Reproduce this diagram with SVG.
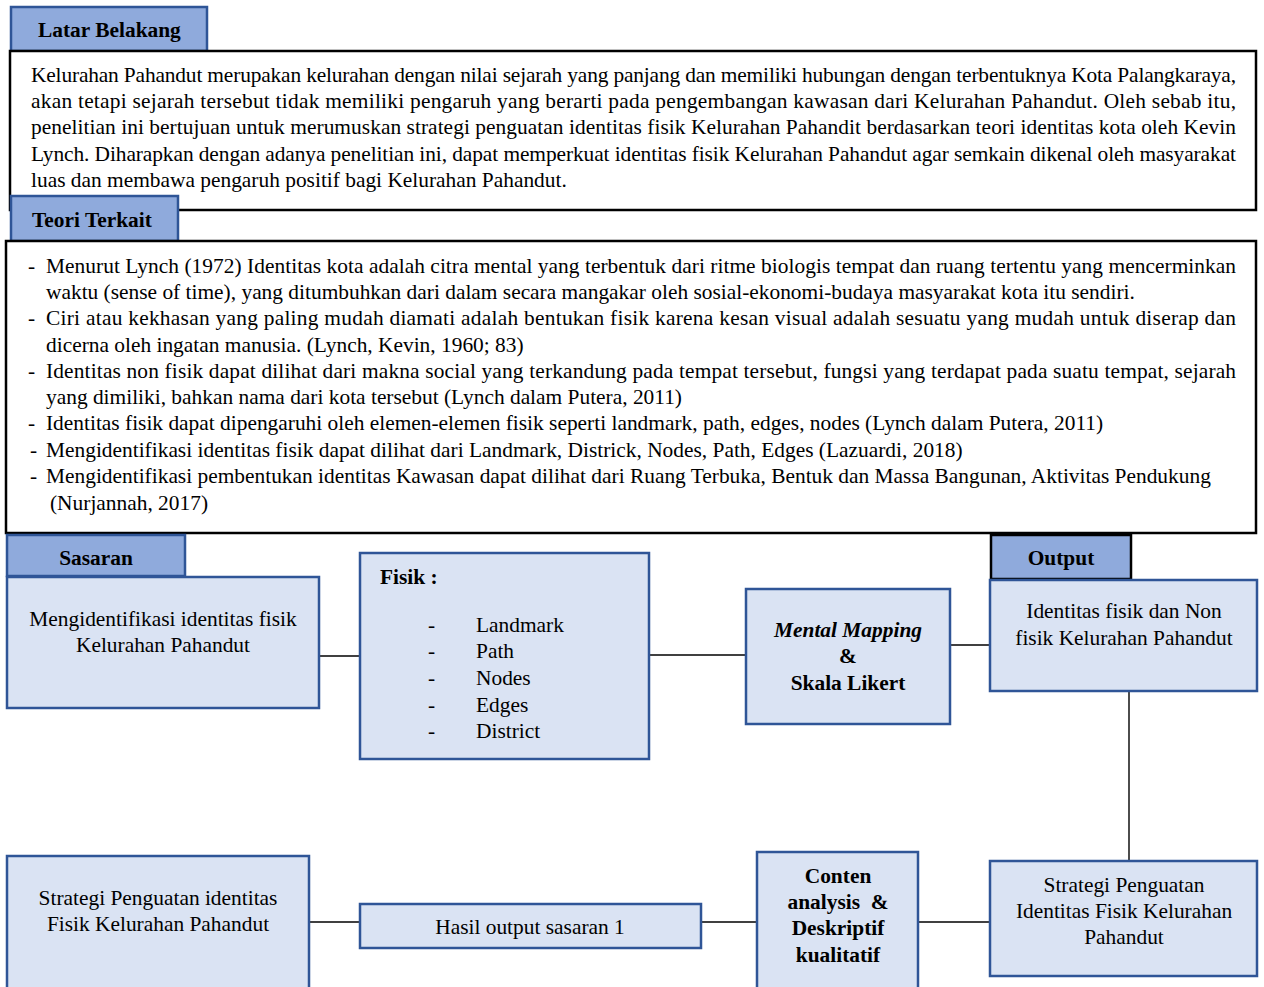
<svg xmlns="http://www.w3.org/2000/svg" width="1264" height="987" viewBox="0 0 1264 987">
<style>
text{font-family:"Liberation Serif","Times New Roman",serif;font-size:21.4px;fill:#000}
.b{font-weight:bold}
.bi{font-weight:bold;font-style:italic}
.m{text-anchor:middle}
.tab{fill:#8FAADC;stroke:#2F5597;stroke-width:2.5}
.tabk{fill:#8FAADC;stroke:#000;stroke-width:2.5}
.frame{fill:#fff;stroke:#000;stroke-width:2.5}
.node{fill:#DAE3F3;stroke:#2F5597;stroke-width:2.5}
.con{stroke:#000;stroke-width:1.4;fill:none}
</style>
<rect width="1264" height="987" fill="#fff"/>

<g id="connectors">
<line class="con" x1="319" y1="656" x2="359" y2="656"/>
<line class="con" x1="649" y1="655" x2="746" y2="655"/>
<line class="con" x1="950" y1="645" x2="990" y2="645"/>
<line class="con" x1="1129" y1="691" x2="1129" y2="861"/>
<line class="con" x1="309" y1="922" x2="359" y2="922"/>
<line class="con" x1="701" y1="922" x2="756" y2="922"/>
<line class="con" x1="918" y1="922" x2="990" y2="922"/>
</g>

<g id="latar-belakang">
<rect class="tab" x="11" y="7" width="196" height="44"/>
<rect class="frame" x="10" y="51" width="1246" height="159"/>
<text class="b" x="38" y="37">Latar Belakang</text>
<text x="31" y="82" textLength="1205" lengthAdjust="spacing">Kelurahan Pahandut merupakan kelurahan dengan nilai sejarah yang panjang dan memiliki hubungan dengan terbentuknya Kota Palangkaraya,</text>
<text x="31" y="108" textLength="1205" lengthAdjust="spacing">akan tetapi sejarah tersebut tidak memiliki pengaruh yang berarti pada pengembangan kawasan dari Kelurahan Pahandut. Oleh sebab itu,</text>
<text x="31" y="134" textLength="1205" lengthAdjust="spacing">penelitian ini bertujuan untuk merumuskan strategi penguatan identitas fisik Kelurahan Pahandit berdasarkan teori identitas kota oleh Kevin</text>
<text x="31" y="161" textLength="1205" lengthAdjust="spacing">Lynch. Diharapkan dengan adanya penelitian ini, dapat memperkuat identitas fisik Kelurahan Pahandut agar semkain dikenal oleh masyarakat</text>
<text x="31" y="187">luas dan membawa pengaruh positif bagi Kelurahan Pahandut.</text>
</g>

<g id="teori-terkait">
<rect class="tab" x="11" y="196" width="167" height="45"/>
<rect class="frame" x="6" y="241" width="1250" height="292"/>
<text class="b" x="32" y="227">Teori Terkait</text>
<text x="28" y="273">-</text>
<text x="46" y="273" textLength="1190" lengthAdjust="spacing">Menurut Lynch (1972) Identitas kota adalah citra mental yang terbentuk dari ritme biologis tempat dan ruang tertentu yang mencerminkan</text>
<text x="46" y="299">waktu (sense of time), yang ditumbuhkan dari dalam secara mangakar oleh sosial-ekonomi-budaya masyarakat kota itu sendiri.</text>
<text x="28" y="325">-</text>
<text x="46" y="325" textLength="1190" lengthAdjust="spacing">Ciri atau kekhasan yang paling mudah diamati adalah bentukan fisik karena kesan visual adalah sesuatu yang mudah untuk diserap dan</text>
<text x="46" y="352">dicerna oleh ingatan manusia. (Lynch, Kevin, 1960; 83)</text>
<text x="28" y="378">-</text>
<text x="46" y="378" textLength="1190" lengthAdjust="spacing">Identitas non fisik dapat dilihat dari makna social yang terkandung pada tempat tersebut, fungsi yang terdapat pada suatu tempat, sejarah</text>
<text x="46" y="404">yang dimiliki, bahkan nama dari kota tersebut (Lynch dalam Putera, 2011)</text>
<text x="28" y="430">-</text>
<text x="46" y="430">Identitas fisik dapat dipengaruhi oleh elemen-elemen fisik seperti landmark, path, edges, nodes (Lynch dalam Putera, 2011)</text>
<text x="30" y="457">-</text>
<text x="46" y="457">Mengidentifikasi identitas fisik dapat dilihat dari Landmark, Districk, Nodes, Path, Edges (Lazuardi, 2018)</text>
<text x="30" y="483">-</text>
<text x="46" y="483">Mengidentifikasi pembentukan identitas Kawasan dapat dilihat dari Ruang Terbuka, Bentuk dan Massa Bangunan, Aktivitas Pendukung</text>
<text x="50" y="510">(Nurjannah, 2017)</text>
</g>

<g id="sasaran">
<rect class="tab" x="7" y="535" width="178" height="41"/>
<text class="b m" x="96" y="565">Sasaran</text>
<rect class="node" x="7" y="577" width="312" height="131"/>
<text class="m" x="163" y="626">Mengidentifikasi identitas fisik</text>
<text class="m" x="163" y="652">Kelurahan Pahandut</text>
</g>

<g id="fisik">
<rect class="node" x="360" y="553" width="289" height="206"/>
<text class="b" x="380" y="584">Fisik :</text>
<text x="428" y="632">-</text><text x="476" y="632">Landmark</text>
<text x="428" y="658">-</text><text x="476" y="658">Path</text>
<text x="428" y="685">-</text><text x="476" y="685">Nodes</text>
<text x="428" y="712">-</text><text x="476" y="712">Edges</text>
<text x="428" y="738">-</text><text x="476" y="738">District</text>
</g>

<g id="mental-mapping">
<rect class="node" x="746" y="589" width="204" height="135"/>
<text class="bi m" x="848" y="637">Mental Mapping</text>
<text class="b m" x="848" y="663">&amp;</text>
<text class="b m" x="848" y="690">Skala Likert</text>
</g>

<g id="output">
<rect class="tabk" x="991" y="535" width="140" height="44"/>
<text class="b m" x="1061" y="565">Output</text>
<rect class="node" x="990" y="580" width="267" height="111"/>
<text class="m" x="1124" y="618">Identitas fisik dan Non</text>
<text class="m" x="1124" y="645">fisik Kelurahan Pahandut</text>
</g>

<g id="strategi-kanan">
<rect class="node" x="990" y="861" width="267" height="115"/>
<text class="m" x="1124" y="892">Strategi Penguatan</text>
<text class="m" x="1124" y="918">Identitas Fisik Kelurahan</text>
<text class="m" x="1124" y="944">Pahandut</text>
</g>

<g id="conten-analysis">
<rect class="node" x="757" y="852" width="161" height="140"/>
<text class="b m" x="838" y="883">Conten</text>
<text class="b m" x="838" y="909" xml:space="preserve">analysis  &amp;</text>
<text class="b m" x="838" y="935">Deskriptif</text>
<text class="b m" x="838" y="962">kualitatif</text>
</g>

<g id="hasil-output">
<rect class="node" x="360" y="904" width="341" height="44"/>
<text class="m" x="530" y="934">Hasil output sasaran 1</text>
</g>

<g id="strategi-kiri">
<rect class="node" x="7" y="856" width="302" height="136"/>
<text class="m" x="158" y="905">Strategi Penguatan identitas</text>
<text class="m" x="158" y="931">Fisik Kelurahan Pahandut</text>
</g>
</svg>
